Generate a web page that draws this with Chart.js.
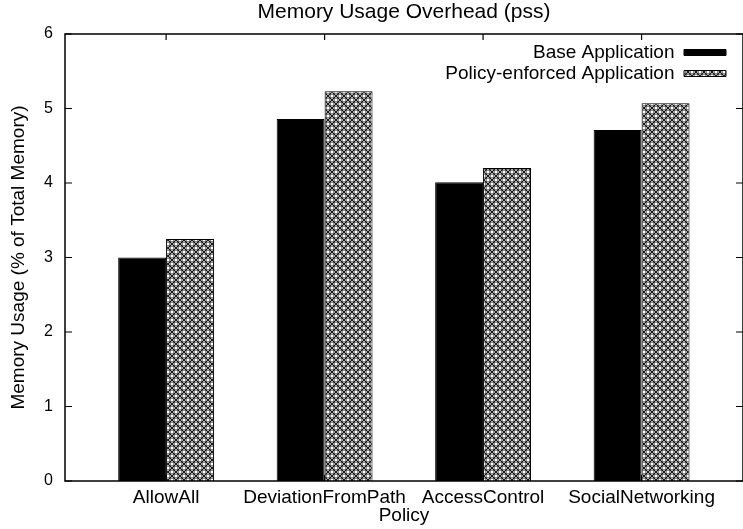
<!DOCTYPE html>
<html>
<head>
<meta charset="utf-8">
<style>
html,body{margin:0;padding:0;background:#fff;}
#wrap{width:743px;height:529px;}
</style>
<script src="https://cdn.jsdelivr.net/npm/chart.js@4.4.0/dist/chart.umd.min.js"></script>
</head>
<body>
<div id="wrap"><canvas id="c" width="743" height="529"></canvas></div>
<script>
// ---- data ----
const categories = ['AllowAll', 'DeviationFromPath', 'AccessControl', 'SocialNetworking'];
const seriesNames = ['Base Application', 'Policy-enforced Application'];
const baseValues = [3.00, 4.86, 4.01, 4.71];
const policyValues = [3.25, 5.23, 4.20, 5.07];
const yTickValues = [0, 1, 2, 3, 4, 5, 6];
const chartTitle = 'Memory Usage Overhead (pss)';
const xAxisTitle = 'Policy';
const yAxisTitle = 'Memory Usage (% of Total Memory)';

// ---- styling ----
const FONT = "'Liberation Sans', Arial, Helvetica, sans-serif";
Chart.defaults.font.family = FONT;
Chart.defaults.color = '#000';

function makePattern() {
  const t = document.createElement('canvas');
  t.width = 8; t.height = 8;
  const g = t.getContext('2d');
  g.fillStyle = '#fff';
  g.fillRect(0, 0, 8, 8);
  g.strokeStyle = '#000';
  g.lineWidth = 0.9;
  g.beginPath();
  g.moveTo(-1, -1); g.lineTo(9, 9);
  g.moveTo(-1, 9); g.lineTo(9, -1);
  g.stroke();
  const pts = [[4, 0], [0, 4], [8, 4], [4, 8]];
  pts.forEach(([cx, cy]) => {
    g.beginPath();
    g.arc(cx, cy, 2.1, 0, Math.PI * 2);
    g.fillStyle = '#fff';
    g.fill();
    g.lineWidth = 0.8;
    g.stroke();
  });
  return document.getElementById('c').getContext('2d').createPattern(t, 'repeat');
}
const hatch = makePattern();

const frame = {
  id: 'frame',
  afterLayout(chart) {
    const lg = chart.legend;
    if (!lg) return;
    const a = chart.chartArea;
    const w = lg.width, h = lg.height;
    lg.right = a.right - 15;
    lg.left = lg.right - w;
    lg.top = a.top + 7;
    lg.bottom = lg.top + h;
  },
  beforeDatasetsDraw(chart) {
    const {ctx, chartArea: a, scales: {x, y}} = chart;
    ctx.save();
    ctx.strokeStyle = '#000';
    ctx.lineWidth = 1.2;
    ctx.beginPath();
    yTickValues.forEach(v => {
      const py = y.getPixelForValue(v);
      ctx.moveTo(a.left, py); ctx.lineTo(a.left + 7, py);
      ctx.moveTo(a.right - 7, py); ctx.lineTo(a.right, py);
    });
    categories.forEach((c, i) => {
      const px = x.getPixelForValue(i);
      ctx.moveTo(px, a.top); ctx.lineTo(px, a.top + 6);
      ctx.moveTo(px, a.bottom); ctx.lineTo(px, a.bottom - 6);
    });
    ctx.stroke();
    ctx.restore();
  },
  afterDatasetsDraw(chart) {
    const {ctx, chartArea: a} = chart;
    ctx.save();
    ctx.strokeStyle = '#000';
    ctx.lineWidth = 1.5;
    ctx.strokeRect(a.left, a.top, a.right - a.left, a.bottom - a.top);
    ctx.restore();
  }
};

new Chart(document.getElementById('c'), {
  type: 'bar',
  data: {
    datasets: [
      {
        label: seriesNames[0],
        data: baseValues.map((v, i) => ({x: i, y: v})),
        backgroundColor: '#000',
        borderColor: '#000',
        borderWidth: 1
      },
      {
        label: seriesNames[1],
        data: policyValues.map((v, i) => ({x: i, y: v})),
        backgroundColor: hatch,
        borderColor: '#000',
        borderWidth: 1
      }
    ]
  },
  options: {
    responsive: false,
    animation: false,
    devicePixelRatio: 1,
    categoryPercentage: 0.605,
    barPercentage: 1.0,
    layout: {padding: {left: 0, right: -1, top: 0, bottom: 0}},
    plugins: {
      title: {
        display: true,
        fullSize: false,
        text: chartTitle,
        color: '#000',
        font: {size: 21, weight: 'normal', family: FONT},
        padding: {top: 0, bottom: 8.8}
      },
      legend: {
        position: 'chartArea',
        align: 'start',
        rtl: true,
        labels: {
          boxWidth: 42,
          boxHeight: 6,
          padding: 2,
          color: '#000',
          font: {size: 19, family: FONT}
        }
      },
      tooltip: {enabled: false}
    },
    scales: {
      x: {
        type: 'linear',
        offset: false,
        min: -0.638,
        max: 3.64,
        grid: {display: false, drawTicks: false},
        border: {display: false},
        afterBuildTicks: (axis) => { axis.ticks = categories.map((c, i) => ({value: i})); },
        afterFit: (axis) => { axis.height = 48; },
        ticks: {
          autoSkip: false,
          maxRotation: 0,
          padding: 5,
          color: '#000',
          font: {size: 19, family: FONT},
          callback: (v) => categories[v] !== undefined ? categories[v] : ''
        },
        title: {
          display: true,
          text: xAxisTitle,
          color: '#000',
          font: {size: 19, family: FONT},
          padding: {top: 0, bottom: 2}
        }
      },
      y: {
        min: 0,
        max: 6,
        grid: {display: false, drawTicks: false},
        border: {display: false},
        afterBuildTicks: (axis) => { axis.ticks = yTickValues.map(v => ({value: v})); },
        afterFit: (axis) => { axis.width = 65; },
        ticks: {
          padding: 12,
          color: '#000',
          font: {size: 16, family: FONT}
        },
        title: {
          display: true,
          text: yAxisTitle,
          color: '#000',
          font: {size: 19, family: FONT},
          padding: {top: 7, bottom: 0}
        }
      }
    }
  },
  plugins: [frame]
});
</script>
</body>
</html>
